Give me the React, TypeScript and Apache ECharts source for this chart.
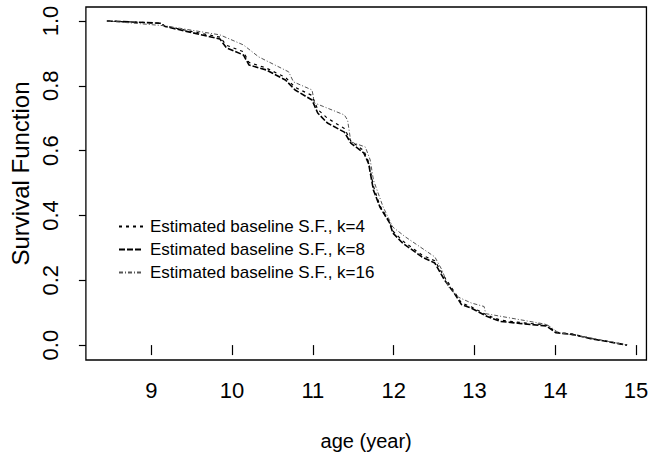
import React, { useEffect, useRef } from "react";
import * as echarts from "echarts";

// Estimated baseline survival function, k=4
const ageK4 = [8.45, 9.11, 9.17, 9.45, 9.85, 9.93, 10.14, 10.21, 10.42, 10.66, 10.78, 10.99, 11.06, 11.18, 11.39, 11.47, 11.63, 11.69, 11.75, 11.83, 11.95, 11.99, 12.11, 12.35, 12.51, 12.63, 12.75, 12.84, 12.96, 13.16, 13.32, 13.56, 13.89, 14.01, 14.21, 14.44, 14.89];
const survK4 = [1.0, 0.993, 0.984, 0.97, 0.95, 0.925, 0.905, 0.872, 0.855, 0.826, 0.795, 0.77, 0.727, 0.7, 0.668, 0.63, 0.6, 0.565, 0.49, 0.43, 0.38, 0.352, 0.322, 0.278, 0.26, 0.21, 0.165, 0.13, 0.118, 0.092, 0.077, 0.07, 0.062, 0.04, 0.034, 0.021, 0.0];

// Estimated baseline survival function, k=8
const ageK8 = [8.45, 9.11, 9.17, 9.45, 9.85, 9.93, 10.14, 10.21, 10.42, 10.66, 10.78, 10.99, 11.06, 11.18, 11.39, 11.47, 11.63, 11.69, 11.75, 11.83, 11.95, 11.99, 12.11, 12.35, 12.51, 12.63, 12.75, 12.84, 12.96, 13.16, 13.32, 13.56, 13.89, 14.01, 14.21, 14.44, 14.89];
const survK8 = [1.0, 0.993, 0.983, 0.967, 0.944, 0.917, 0.895, 0.864, 0.849, 0.818, 0.787, 0.756, 0.716, 0.685, 0.657, 0.623, 0.593, 0.56, 0.478, 0.426, 0.377, 0.346, 0.315, 0.272, 0.253, 0.201, 0.16, 0.125, 0.114, 0.088, 0.073, 0.067, 0.059, 0.038, 0.033, 0.02, 0.0];

// Estimated baseline survival function, k=16
const ageK16 = [8.45, 9.17, 9.85, 10.14, 10.33, 10.7, 10.76, 10.99, 11.02, 11.39, 11.43, 11.47, 11.65, 11.71, 11.75, 11.87, 11.99, 12.15, 12.51, 12.6, 12.68, 12.8, 12.96, 13.12, 13.14, 13.89, 13.96, 14.04, 14.44, 14.89];
const survK16 = [1.0, 0.985, 0.957, 0.926, 0.889, 0.843, 0.812, 0.787, 0.747, 0.71, 0.694, 0.627, 0.611, 0.571, 0.509, 0.426, 0.364, 0.333, 0.272, 0.231, 0.179, 0.148, 0.13, 0.119, 0.097, 0.064, 0.053, 0.038, 0.022, 0.0];

const xTicks = [9, 10, 11, 12, 13, 14, 15];
const yTicks = [0, 0.2, 0.4, 0.6, 0.8, 1.0];
const seriesNames = [
  "Estimated baseline S.F., k=4",
  "Estimated baseline S.F., k=8",
  "Estimated baseline S.F., k=16",
];

const FONT = "'Liberation Sans', Arial, sans-serif";

const zip = (xs: number[], ys: number[]) => xs.map((x, i) => [x, ys[i]]);

export default function App() {
  const ref = useRef<HTMLDivElement>(null);
  useEffect(() => {
    if (!ref.current) return;
    const chart = echarts.init(ref.current, undefined, { renderer: "svg" });
    chart.setOption({
      animation: false,
      backgroundColor: "#fff",
      grid: {
        left: 76,
        right: 1,
        top: 7,
        bottom: 100,
        show: true,
        borderColor: "#000",
        borderWidth: 1.3,
      },
      legend: {
        orient: "vertical",
        left: 113,
        top: 213,
        itemWidth: 24,
        itemHeight: 12,
        itemGap: 6,
        itemStyle: { opacity: 0 },
        textStyle: { fontFamily: FONT, fontSize: 17, color: "#000", padding: [0, 0, 0, 2] },
        data: seriesNames,
      },
      xAxis: {
        type: "value",
        min: 8.19,
        max: 15.13,
        name: "age (year)",
        nameLocation: "middle",
        nameGap: 71,
        nameTextStyle: { fontFamily: FONT, fontSize: 20, color: "#000" },
        axisLine: { show: false },
        splitLine: { show: false },
        axisTick: {
          show: true,
          length: 10,
          customValues: xTicks,
          lineStyle: { color: "#000", width: 1.2 },
        },
        axisLabel: {
          customValues: xTicks,
          fontFamily: FONT,
          fontSize: 22,
          color: "#000",
          margin: 19,
          formatter: (v: number) => String(v),
        },
      },
      yAxis: {
        type: "value",
        min: -0.046,
        max: 1.043,
        name: "Survival Function",
        nameLocation: "middle",
        nameRotate: 90,
        nameGap: 52,
        nameTextStyle: { fontFamily: FONT, fontSize: 24, color: "#000", padding: [0, 0, 0, 20] },
        axisLine: { show: false },
        splitLine: { show: false },
        axisTick: {
          show: true,
          length: 7,
          customValues: yTicks,
          lineStyle: { color: "#000", width: 1.2 },
        },
        axisLabel: {
          customValues: yTicks,
          rotate: 90,
          fontFamily: FONT,
          fontSize: 22,
          color: "#000",
          margin: 24,
          formatter: (v: number) => v.toFixed(1),
        },
      },
      series: [
        {
          name: seriesNames[0],
          type: "line",
          data: zip(ageK4, survK4),
          showSymbol: false,
          symbol: "none",
          lineStyle: { color: "#000", width: 1.2, type: [3, 4] },
          itemStyle: { color: "#000" },
        },
        {
          name: seriesNames[1],
          type: "line",
          data: zip(ageK8, survK8),
          showSymbol: false,
          symbol: "none",
          lineStyle: { color: "#000", width: 1.6, type: [6, 2] },
          itemStyle: { color: "#000" },
        },
        {
          name: seriesNames[2],
          type: "line",
          data: zip(ageK16, survK16),
          showSymbol: false,
          symbol: "none",
          lineStyle: { color: "#555", width: 1, type: [4, 2, 1, 2] },
          itemStyle: { color: "#555" },
        },
      ],
    });
    return () => chart.dispose();
  }, []);
  return (
    <div
      ref={ref}
      style={{ position: "fixed", left: 0, top: 0, width: 651, height: 460, background: "#fff" }}
    />
  );
}
